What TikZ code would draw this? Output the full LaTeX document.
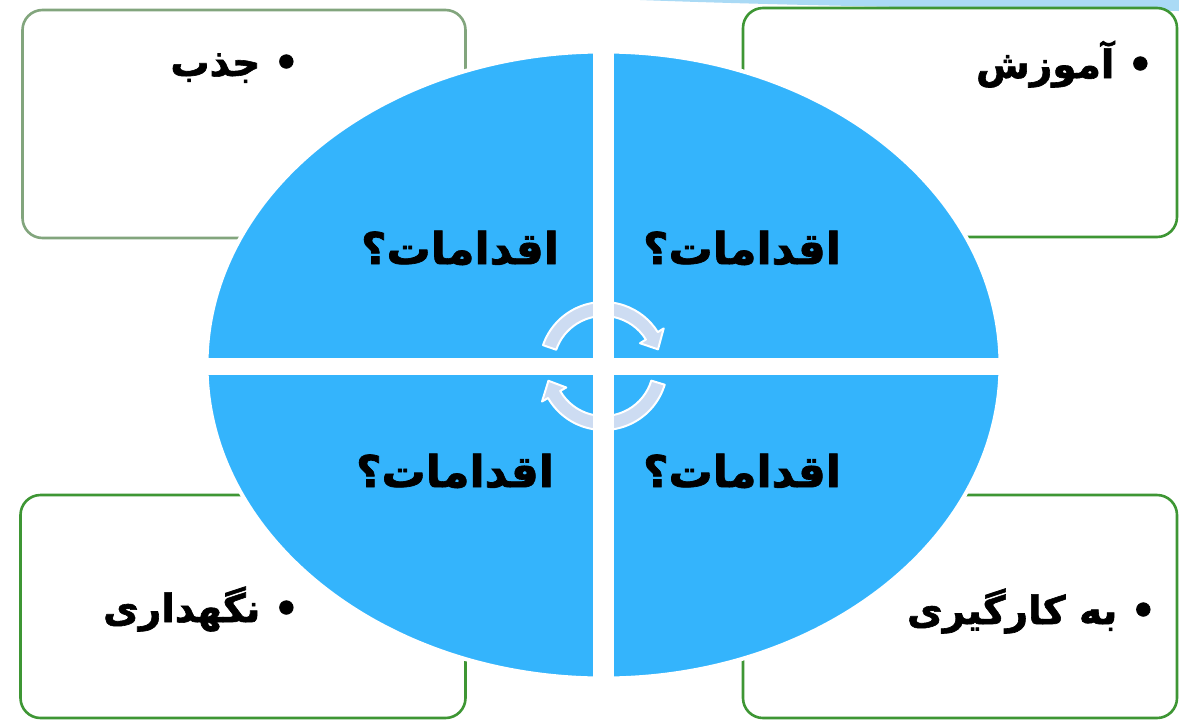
\documentclass[tikz,border=0pt]{standalone}
\usepackage{fontspec}
\usetikzlibrary{shapes.geometric}
\newfontfamily\arabicfont[Script=Arabic, BoldFeatures={FakeBold=1.6}]{DejaVu Sans}
\TeXXeTstate=1
\definecolor{quadblue}{RGB}{52,180,252}
\definecolor{boxgreen}{RGB}{62,150,52}
\definecolor{boxgray}{RGB}{130,165,125}
\definecolor{arrowfill}{RGB}{205,220,242}
\definecolor{bandblue}{RGB}{170,218,245}
\tikzset{
  box/.style={draw=boxgreen, line width=2.6pt, rounded corners=20pt, fill=white, inner sep=0pt},
  quadtext/.style={font=\arabicfont\bfseries\fontsize{44}{50}\selectfont, inner sep=0pt},
  boxtext/.style={font=\arabicfont\bfseries\fontsize{39}{44}\selectfont, inner sep=0pt, anchor=base east},
  cyclearrow/.style={fill=arrowfill, draw=white, line width=2pt, line join=round}
}
\begin{document}
\begin{tikzpicture}[x=1pt,y=-1pt]
\useasboundingbox (0,0) rectangle (1179,721);
\fill[white] (0,0) rectangle (1179,721);
% faint band at the top
\fill[bandblue] (640,0) .. controls (800,6) and (1000,9) .. (1179,11) -- (1179,0) -- cycle;
% corner boxes
\node[box, draw=boxgray, minimum width=443pt, minimum height=228pt] (tl) at (244,124) {};
\node[box, minimum width=434pt, minimum height=229pt] (tr) at (960,122.5) {};
\node[box, minimum width=445pt, minimum height=223pt] (bl) at (243,606.5) {};
\node[box, minimum width=434pt, minimum height=223pt] (br) at (960,606.5) {};
% big ellipse
\node[ellipse, draw=white, line width=4pt, fill=quadblue, minimum width=794pt, minimum height=627pt, inner sep=0pt] (ell) at (603.5,365) {};
% cycle arrows
\begin{scope}[shift={(603.5,366)}]
\path[cyclearrow] (199:64) arc[start angle=199, end angle=328, radius=64]
  -- (328:71) -- (343:57) -- (328:43) -- (328:50)
  arc[start angle=328, end angle=199, radius=50] -- cycle;
\path[cyclearrow] (17:64) arc[start angle=17, end angle=150, radius=64]
  -- (150:71) -- (165:57) -- (150:43) -- (150:50)
  arc[start angle=150, end angle=17, radius=50] -- cycle;
\end{scope}
% white separating stripes
\begin{scope}
\clip (603.5,365) ellipse [x radius=400, y radius=317];
\fill[white] (593,40) rectangle (614,690);
\fill[white] (195,358) rectangle (1012,375);
\end{scope}
% quadrant texts
\node[quadtext] (q1) at (460,248) {\beginR اقدامات؟\endR};
\node[quadtext] (q2) at (742,248) {\beginR اقدامات؟\endR};
\node[quadtext] (q3) at (455,471) {\beginR اقدامات؟\endR};
\node[quadtext] (q4) at (742,471) {\beginR اقدامات؟\endR};
% box labels
\node[boxtext] (l1) at (299,76) {\beginR • جذب\endR};
\node[boxtext] (l2) at (1153,78) {\beginR • آموزش\endR};
\node[boxtext] (l3) at (299,622) {\beginR • نگهداری\endR};
\node[boxtext] (l4) at (1156,624) {\beginR • به کارگیری\endR};
\end{tikzpicture}
\end{document}
